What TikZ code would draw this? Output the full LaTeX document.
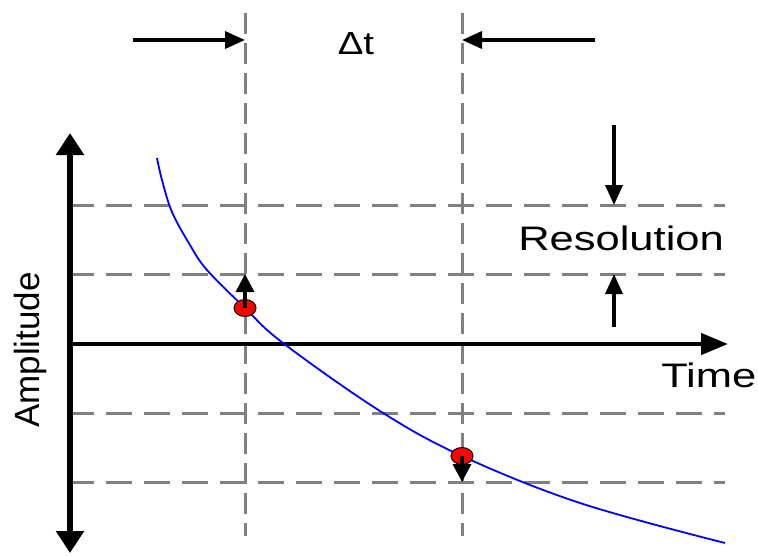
\documentclass[tikz,border=0pt]{standalone}
\usepackage{fontspec}
\setmainfont{Liberation Sans}
\usetikzlibrary{arrows.meta,shapes.geometric}
\begin{document}
\begin{tikzpicture}[x=1pt,y=-1pt,
  gridh/.style={draw={rgb,255:red,128;green,128;blue,128}, line width=3pt, dash pattern=on 26pt off 12pt},
  gridv/.style={draw={rgb,255:red,128;green,128;blue,128}, line width=3pt, dash pattern=on 21pt off 9pt},
  vaxis/.style={line width=6.5pt, {Triangle[length=22pt,width=27pt]}-{Triangle[length=22pt,width=27pt]}},
  haxis/.style={line width=4.5pt, -{Triangle[length=27pt,width=21pt]}},
  dimarrow/.style={line width=3.5pt, -{Triangle[length=20pt,width=17pt]}},
  smallarrow/.style={line width=3.5pt, -{Triangle[length=18pt,width=18pt]}},
  sample/.style={ellipse, draw=black, fill=red, minimum width=22pt, minimum height=17pt, inner sep=0pt, line width=1pt},
  lbl/.style={font=\fontsize{34}{40}\selectfont, xscale=1.28, inner sep=0pt},
  curve/.style={draw=blue, line width=1.8pt}
]
\useasboundingbox (0,0) rectangle (758,555);

% grid
\coordinate (h1l) at (68,205); \coordinate (h1r) at (725,205);
\coordinate (h2l) at (68,274); \coordinate (h2r) at (725,274);
\coordinate (h3l) at (68,413); \coordinate (h3r) at (725,413);
\coordinate (h4l) at (68,482); \coordinate (h4r) at (725,482);
\draw[gridh] (h1l) -- (h1r);
\draw[gridh] (h2l) -- (h2r);
\draw[gridh] (h3l) -- (h3r);
\draw[gridh] (h4l) -- (h4r);
\coordinate (v1t) at (245,13); \coordinate (v1b) at (245,536);
\coordinate (v2t) at (462,13); \coordinate (v2b) at (462,536);
\draw[gridv] (v1t) -- (v1b);
\draw[gridv] (v2t) -- (v2b);

% axes
\coordinate (ytop) at (70,133); \coordinate (ybot) at (70,553);
\coordinate (xl) at (68,344); \coordinate (xr) at (728,344);
\draw[vaxis] (ybot) -- (ytop);
\draw[haxis] (xl) -- (xr);

% curve
\draw[curve] plot[smooth, tension=0.6] coordinates {(157,158) (162,180) (172,212) (190,245) (207,270) (245,308) (283,343) (380,411) (462,456) (580,503) (725,543)};

% samples
\node[sample] (p1) at (245,308) {};
\node[sample] (p2) at (462,456) {};
\draw[smallarrow] (p1.center) -- (h2r -| p1);
\draw[smallarrow] (p2.center) -- (h4r -| p2);

% delta t arrows
\coordinate (a1) at (133,40); \coordinate (a1e) at (245,40);
\coordinate (a2) at (595,40); \coordinate (a2e) at (462,40);
\draw[dimarrow] (a1) -- (a1e);
\draw[dimarrow] (a2) -- (a2e);

% resolution arrows
\coordinate (r1) at (614,125); \coordinate (r1e) at (614,205);
\coordinate (r2) at (614,327); \coordinate (r2e) at (614,274);
\draw[dimarrow] (r1) -- (r1e);
\draw[dimarrow] (r2) -- (r2e);

% labels
\node[inner sep=0pt, anchor=base, font=\fontsize{32}{38}\selectfont, xscale=1.2] (dt) at (356,54) {Δt};
\node[lbl, anchor=base west] (res) at (518,250) {Resolution};
\node[lbl, anchor=base west] (time) at (661,387) {Time};
\node[inner sep=0pt, anchor=base, rotate=90, font=\fontsize{35}{40}\selectfont] (amp) at (39,350) {Amplitude};
\end{tikzpicture}
\end{document}
